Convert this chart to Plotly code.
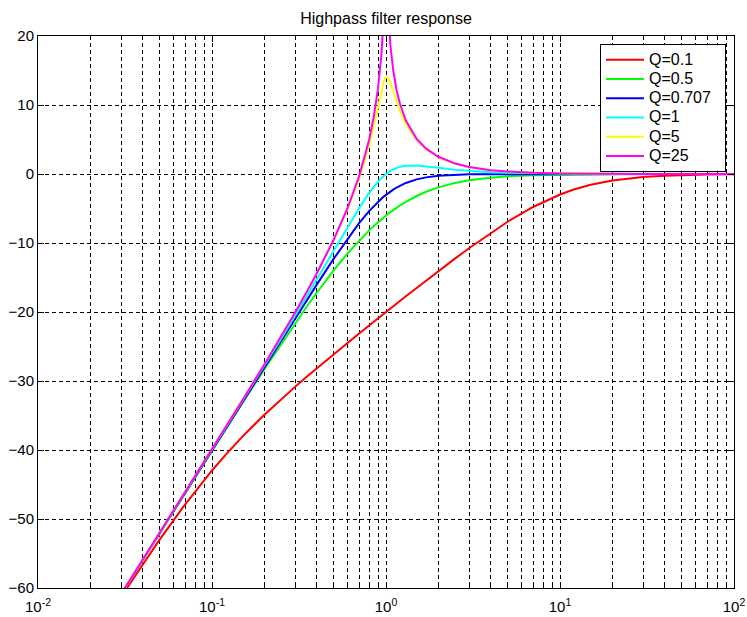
import plotly.graph_objects as go

# Normalised frequency (f/f0)
freq = [0.03, 0.04, 0.05, 0.07, 0.08, 0.1, 0.12, 0.15, 0.2, 0.25,
        0.3, 0.35, 0.4, 0.5, 0.6, 0.7, 0.8, 0.85, 0.9, 0.94,
        0.97, 0.99, 1.0, 1.01, 1.03, 1.06, 1.1, 1.15, 1.2, 1.3,
        1.5, 1.7, 2, 2.5, 3, 4, 5, 7, 10, 12,
        15, 20, 25, 30, 40, 50, 70, 100]

# Magnitude response in dB for each quality factor
gain_q0_1 = [-61.29, -56.55, -52.99, -47.90, -45.99, -42.97, -40.66, -38.02, -34.88, -32.61,
             -30.85, -29.38, -28.15, -26.12, -24.48, -23.12, -21.95, -21.41, -20.92, -20.54,
             -20.26, -20.09, -20.00, -19.91, -19.74, -19.50, -19.17, -18.79, -18.42, -17.73,
             -16.51, -15.44, -14.08, -12.23, -10.76, -8.53, -6.92, -4.78, -2.97, -2.25,
             -1.57, -0.95, -0.63, -0.45, -0.26, -0.17, -0.09, -0.04]
gain_q0_5 = [-60.93, -55.93, -52.06, -46.24, -43.93, -40.09, -36.96, -33.15, -28.30, -24.61,
             -21.67, -19.24, -17.21, -13.98, -11.54, -9.66, -8.17, -7.54, -6.98, -6.57,
             -6.29, -6.11, -6.02, -5.93, -5.77, -5.53, -5.23, -4.89, -4.58, -4.04,
             -3.19, -2.58, -1.94, -1.29, -0.92, -0.53, -0.34, -0.18, -0.09, -0.06,
             -0.04, -0.02, -0.01, -0.01, 0.00, 0.00, 0.00, 0.00]
gain_q0_707 = [-60.92, -55.92, -52.04, -46.20, -43.88, -40.00, -36.83, -32.96, -27.97, -24.10,
               -20.95, -18.30, -16.03, -12.30, -9.40, -7.13, -5.37, -4.65, -4.02, -3.58,
               -3.28, -3.10, -3.01, -2.92, -2.76, -2.53, -2.26, -1.96, -1.71, -1.30,
               -0.78, -0.49, -0.26, -0.11, -0.05, -0.02, -0.01, 0.00, 0.00, 0.00,
               0.00, 0.00, 0.00, 0.00, 0.00, 0.00, 0.00, 0.00]
gain_q1 = [-60.92, -55.91, -52.03, -46.18, -43.85, -39.96, -36.77, -32.86, -27.79, -23.82,
           -20.55, -17.74, -15.29, -11.14, -7.73, -4.95, -2.74, -1.85, -1.10, -0.60,
           -0.28, -0.09, 0.00, 0.09, 0.24, 0.45, 0.67, 0.89, 1.04, 1.20,
           1.23, 1.11, 0.90, 0.63, 0.45, 0.26, 0.17, 0.08, 0.04, 0.03,
           0.02, 0.01, 0.01, 0.00, 0.00, 0.00, 0.00, 0.00]
gain_q5 = [-60.91, -55.91, -52.02, -46.16, -43.82, -39.91, -36.71, -32.77, -27.61, -23.53,
           -20.12, -17.13, -14.44, -9.62, -5.15, -0.67, 4.21, 6.93, 9.81, 12.03,
           13.33, 13.85, 13.98, 14.02, 13.87, 13.21, 11.99, 10.47, 9.17, 7.20,
           4.86, 3.55, 2.42, 1.48, 1.00, 0.55, 0.35, 0.17, 0.09, 0.06,
           0.03, 0.02, 0.01, 0.01, 0.00, 0.00, 0.00, 0.00]
gain_q25 = [-60.91, -55.91, -52.02, -46.16, -43.82, -39.91, -36.71, -32.76, -27.61, -23.52,
            -20.10, -17.10, -14.41, -9.55, -5.00, -0.36, 4.96, 8.25, 12.44, 17.17,
            22.48, 26.89, 27.96, 27.09, 23.18, 18.69, 15.03, 12.17, 10.25, 7.76,
            5.10, 3.68, 2.50, 1.51, 1.02, 0.56, 0.35, 0.17, 0.09, 0.06,
            0.03, 0.02, 0.01, 0.01, 0.00, 0.00, 0.00, 0.00]

series_names = ["Q=0.1", "Q=0.5", "Q=0.707", "Q=1", "Q=5", "Q=25"]
series_gains = [gain_q0_1, gain_q0_5, gain_q0_707, gain_q1, gain_q5, gain_q25]
line_colors = ["#ff0000", "#00ff00", "#0000ff", "#00ffff", "#ffff00", "#ff00ff"]

x_major = [0.01, 0.1, 1, 10, 100]
x_major_text = ["10<sup>-2</sup>", "10<sup>-1</sup>", "10<sup>0</sup>",
                "10<sup>1</sup>", "10<sup>2</sup>"]
x_minor = [m * d for d in (0.01, 0.1, 1, 10) for m in range(2, 10)]
y_ticks = [20, 10, 0, -10, -20, -30, -40, -50, -60]

FONT = "Liberation Sans, Arial, sans-serif"
GRID_DASH = "4px,3px"
# legend rows are spaced from the legend font; entry text is set larger,
# with a little trailing room before the legend border
LEGEND_TEXT = '<span style="font-size:16px">{}&nbsp;&nbsp;</span>'

fig = go.Figure()
for name, gain, color in zip(series_names, series_gains, line_colors):
    fig.add_trace(go.Scatter(
        x=freq, y=gain, mode="lines", name=LEGEND_TEXT.format(name),
        line=dict(color=color, width=2),
    ))

fig.update_layout(
    width=747, height=617,
    margin=dict(l=38, r=13, t=36, b=29),
    paper_bgcolor="white", plot_bgcolor="white",
    font=dict(family=FONT, size=15, color="black"),
    title=dict(text="Highpass filter response", x=0.5, xref="paper",
               xanchor="center", y=1 - 18 / 617, yref="container",
               yanchor="middle", font=dict(family=FONT, size=16, color="black")),
    showlegend=True,
    legend=dict(x=0.9885, xanchor="right", y=0.9855, yanchor="top",
                bgcolor="white", bordercolor="black", borderwidth=1,
                font=dict(family=FONT, size=12.5, color="black"),
                itemwidth=38),
)

fig.update_xaxes(
    type="log", range=[-2, 2], automargin=False,
    tickmode="array", tickvals=x_major, ticktext=x_major_text,
    ticks="inside", ticklen=6, tickcolor="black", ticklabelstandoff=5,
    showline=True, linecolor="black", linewidth=1, mirror="ticks",
    showgrid=True, gridcolor="black", gridwidth=1, griddash=GRID_DASH,
    zeroline=False,
    minor=dict(tickmode="array", tickvals=x_minor, ticks="inside", ticklen=3,
               tickcolor="black", showgrid=True, gridcolor="black",
               gridwidth=1, griddash=GRID_DASH),
)
fig.update_yaxes(
    range=[-60, 20], automargin=False, tickmode="array", tickvals=y_ticks,
    ticks="inside", ticklen=6, tickcolor="black",
    showline=True, linecolor="black", linewidth=1, mirror="ticks",
    showgrid=True, gridcolor="black", gridwidth=1, griddash=GRID_DASH,
    zeroline=False,
)

fig.write_html("out.html")
